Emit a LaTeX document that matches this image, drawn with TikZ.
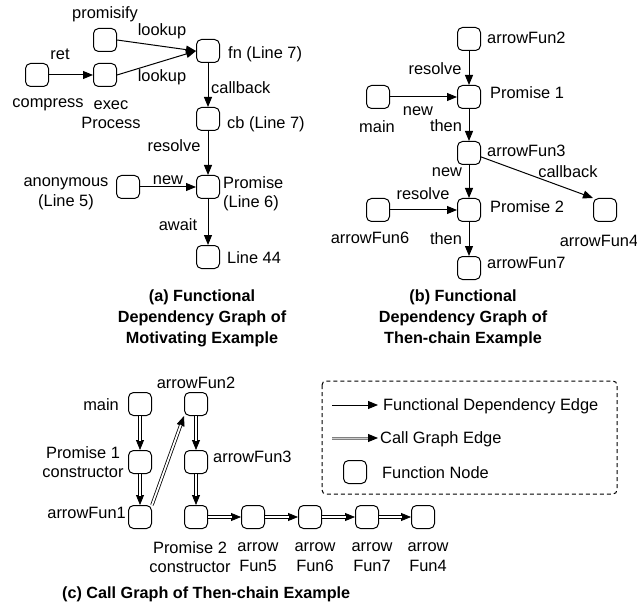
\documentclass[tikz,border=0pt]{standalone}
\usepackage{fontspec}
\setmainfont{Liberation Sans}
\usetikzlibrary{arrows.meta}
\tikzset{
  fbox/.style={draw, rounded corners=5pt, minimum size=23pt, inner sep=0pt, line width=1pt},
  lbl/.style={inner sep=0pt, font=\fontsize{16.4}{19.5}\selectfont},
  captxt/.style={inner sep=0pt, align=center, font=\fontsize{16.2}{21}\selectfont\bfseries},
  fd/.style={-{Triangle[length=10pt,width=8pt]}, line width=1pt},
  cgtip/.style={-{Triangle[length=10pt,width=8pt]}, line width=0.8pt},
  cgdbl/.style={draw, line width=0.8pt, double=white, double distance=1.8pt, shorten >=9.5pt},
  lgtip/.style={-{Triangle[length=10pt,width=8pt]}, line width=0.8pt, draw=gray},
  lgdbl/.style={draw=gray, line width=1pt, double=gray!40, double distance=1pt, shorten >=9.5pt},
  legendbox/.style={draw, rounded corners=4pt, line width=1pt, dash pattern=on 4pt off 3pt}
}
\newcommand\cgedge[2]{\draw[cgtip] (#1) -- (#2); \draw[cgdbl] (#1) -- (#2);}
\begin{document}
\begin{tikzpicture}[x=1pt,y=-1pt]
\useasboundingbox (0,0) rectangle (637,604);
% ---------------- (a)
\node[fbox] (prom) at (105,40) {};
\node[fbox] (fn) at (208,51) {};
\node[fbox] (comp) at (37,75) {};
\node[fbox] (exec) at (105,75) {};
\node[fbox] (cb) at (208,119) {};
\node[fbox] (anon) at (128,187) {};
\node[fbox] (prm) at (208,187) {};
\node[fbox] (l44) at (208,257) {};
\node[lbl] (tprom) at (105,14) {promisify};
\node[lbl] (tlk1) at (162,31) {lookup};
\node[lbl] (tlk2) at (162,77) {lookup};
\node[lbl] (tret) at (60,54) {ret};
\node[lbl] (tcomp) at (48,105) {compress};
\node[lbl, align=center] (texec) at (111,114.5) {exec\\Process};
\node[lbl, anchor=west] (tfn) at (228,54) {fn (Line 7)};
\node[lbl, anchor=west] (tcbk) at (211,88) {callback};
\node[lbl, anchor=west] (tcb) at (227,124) {cb (Line 7)};
\node[lbl] (tres) at (174,146) {resolve};
\node[lbl, align=center] (tanon) at (66,194) {anonymous\\(Line 5)};
\node[lbl] (tnew) at (168,180) {new};
\node[lbl, align=left, anchor=west] (tprm) at (223,194) {Promise\\(Line 6)};
\node[lbl] (tawait) at (178,225) {await};
\node[lbl, anchor=west] (tl44) at (227,258) {Line 44};
\draw[fd] (prom.east) -- (fn.west);
\draw[fd] (exec.east) -- (fn.west);
\draw[fd] (comp) -- (exec);
\draw[fd] (fn) -- (cb);
\draw[fd] (cb) -- (prm);
\draw[fd] (anon) -- (prm);
\draw[fd] (prm) -- (l44);
\node[captxt] (capa) at (202,318) {(a) Functional\\Dependency Graph of\\Motivating Example};
% ---------------- (b)
\node[fbox] (af2) at (469,39) {};
\node[fbox] (p1) at (469,97) {};
\node[fbox] (bmain) at (378,97) {};
\node[fbox] (af3) at (469,153) {};
\node[fbox] (p2) at (469,210) {};
\node[fbox] (af6) at (378,210) {};
\node[fbox] (af4) at (605,210) {};
\node[fbox] (af7) at (469,268) {};
\node[lbl, anchor=west] (taf2) at (487,38) {arrowFun2};
\node[lbl] (tbres1) at (435,69) {resolve};
\node[lbl, anchor=west] (tp1) at (490,93) {Promise 1};
\node[lbl] (tbnew1) at (418,111) {new};
\node[lbl] (tbmain) at (377,127) {main};
\node[lbl] (tthen1) at (446,126) {then};
\node[lbl, anchor=west] (taf3) at (487,151) {arrowFun3};
\node[lbl] (tbnew2) at (447,172) {new};
\node[lbl] (tbcbk) at (568,172) {callback};
\node[lbl] (tbres2) at (423,194) {resolve};
\node[lbl, anchor=west] (tp2) at (490,207) {Promise 2};
\node[lbl] (taf6) at (370,238) {arrowFun6};
\node[lbl] (taf4) at (599,241) {arrowFun4};
\node[lbl] (tthen2) at (446,239) {then};
\node[lbl, anchor=west] (taf7) at (487,263) {arrowFun7};
\draw[fd] (af2) -- (p1);
\draw[fd] (bmain) -- (p1);
\draw[fd] (p1) -- (af3);
\draw[fd] (af3) -- (p2);
\draw[fd] (af6) -- (p2);
\draw[fd] (af3.-18) -- (af4.north west);
\draw[fd] (p2) -- (af7);
\node[captxt] (capb) at (463,318) {(b) Functional\\Dependency Graph of\\Then-chain Example};
% ---------------- (c)
\node[fbox] (cmain) at (140,404) {};
\node[fbox] (caf2) at (196,404) {};
\node[fbox] (cp1) at (140,462) {};
\node[fbox] (caf3) at (196,462) {};
\node[fbox] (caf1) at (140,517) {};
\node[fbox] (cp2) at (196,517) {};
\node[fbox] (caf5) at (253,517) {};
\node[fbox] (caf6) at (310,517) {};
\node[fbox] (caf7) at (367,517) {};
\node[fbox] (caf4) at (423,517) {};
\node[lbl, anchor=east] (tcmain) at (119,405) {main};
\node[lbl] (tcaf2) at (196,383) {arrowFun2};
\node[lbl, align=center] (tcp1) at (83,462) {Promise 1\\constructor};
\node[lbl, anchor=west] (tcaf3) at (213,457) {arrowFun3};
\node[lbl, anchor=east] (tcaf1) at (126,513) {arrowFun1};
\node[lbl, align=center] (tcp2) at (190,557) {Promise 2\\constructor};
\node[lbl, align=center] (tcaf5) at (258,557) {arrow\\Fun5};
\node[lbl, align=center] (tcaf6) at (315,557) {arrow\\Fun6};
\node[lbl, align=center] (tcaf7) at (372,557) {arrow\\Fun7};
\node[lbl, align=center] (tcaf4) at (428,557) {arrow\\Fun4};
\cgedge{cmain}{cp1}
\cgedge{cp1}{caf1}
\cgedge{caf1.north east}{caf2.south west}
\cgedge{caf2}{caf3}
\cgedge{caf3}{cp2}
\cgedge{cp2}{caf5}
\cgedge{caf5}{caf6}
\cgedge{caf6}{caf7}
\cgedge{caf7}{caf4}
\node[captxt, anchor=west] (capc) at (62,594) {(c) Call Graph of Then-chain Example};
% ---------------- legend
\draw[legendbox] (322,381) rectangle (617,494);
\coordinate (lg1a) at (332,405);
\coordinate (lg1b) at (378,405);
\coordinate (lg2a) at (332,438);
\coordinate (lg2b) at (378,438);
\draw[fd] (lg1a) -- (lg1b);
\draw[lgdbl] (lg2a) -- (lg2b);
\draw[fd, shorten <=36pt] (lg2a) -- (lg2b);
\node[lbl, anchor=west] (tlg1) at (383,406) {Functional Dependency Edge};
\node[lbl, anchor=west] (tlg2) at (380,439) {Call Graph Edge};
\node[fbox] (lgbox) at (355,472) {};
\node[lbl, anchor=west] (tlg3) at (382,473) {Function Node};
\end{tikzpicture}
\end{document}
